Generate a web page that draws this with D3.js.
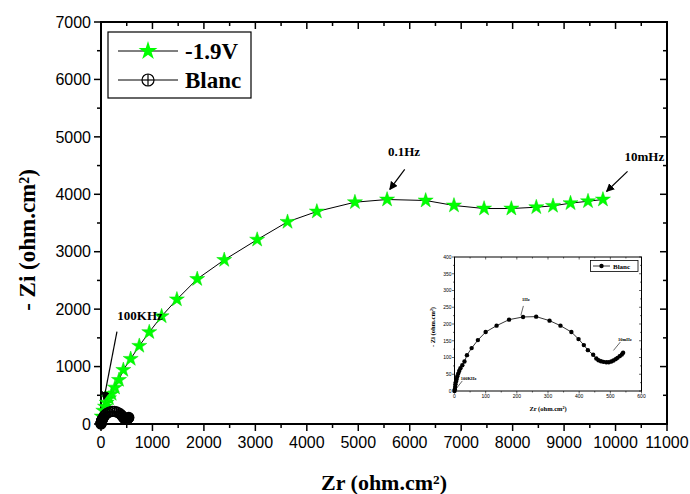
<!DOCTYPE html>
<html>
<head>
<meta charset="utf-8">
<script src="https://cdn.jsdelivr.net/npm/d3@7"></script>
<style>
  body { margin: 0; background: #fff; }
  text { fill: #000; }
</style>
</head>
<body>
<svg id="chart" width="690" height="494"></svg>
<script>
// -1.9V series (ohm.cm2)
const v19Zr = [15, 45, 78, 110, 155, 207, 272, 350, 434, 577, 744, 938, 1178, 1475, 1870, 2395, 3035, 3625, 4195, 4935, 5560, 6310, 6860, 7445, 7975, 8460, 8785, 9125, 9465, 9755];
const v19Zi = [130, 232, 302, 372, 448, 524, 634, 768, 942, 1134, 1361, 1600, 1876, 2170, 2525, 2857, 3210, 3520, 3700, 3862, 3909, 3892, 3805, 3752, 3752, 3775, 3799, 3845, 3879, 3909];

// Blanc series (ohm.cm2)
const blancZr = [0, 1, 2, 3, 5, 7, 9, 12, 15, 19, 25, 32, 40, 55, 75, 100, 135, 175, 220, 262, 305, 340, 375, 398, 415, 428, 445, 455, 462, 470, 478, 487, 495, 503, 510, 517, 523, 530, 537, 541];
const blancZi = [0, 5, 12, 20, 28, 36, 44, 52, 60, 68, 77, 88, 107, 128, 152, 176, 195, 213, 221, 222, 210, 195, 176, 155, 137, 122, 108, 97, 92, 89, 87, 86, 86, 88, 91, 95, 99, 104, 109, 114];

const xTicks = [0, 1000, 2000, 3000, 4000, 5000, 6000, 7000, 8000, 9000, 10000, 11000];
const yTicks = [0, 1000, 2000, 3000, 4000, 5000, 6000, 7000];
const insetXTicks = [0, 100, 200, 300, 400, 500, 600];
const insetYTicks = [0, 50, 100, 150, 200, 250, 300, 350, 400];

const mainNotes = [
  {label: "0.1Hz", tx: 5890, ty: 4660, x1: 5903, y1: 4433, x2: 5612, y2: 4084},
  {label: "10mHz", tx: 10560, ty: 4572, x1: 10233, y1: 4398, x2: 9825, y2: 4049},
  {label: "100KHz", tx: 760, ty: 1810, x1: 310, y1: 1610, x2: 55, y2: 430}
];
const insetNotes = [
  {label: "1Hz", tx: 229, ty: 268, x1: 221, y1: 254, x2: 213, y2: 226},
  {label: "10mHz", tx: 547, ty: 150, x1: 532, y1: 146, x2: 510, y2: 121},
  {label: "100KHz", tx: 45, ty: 34, x1: 25, y1: 30, x2: 3, y2: 4}
];

const svg = d3.select("#chart");
const serif = "'Liberation Serif', 'Times New Roman', serif";
const sans = "'Liberation Sans', Arial, sans-serif";

const defs = svg.append("defs");
defs.append("marker")
  .attr("id", "arrow")
  .attr("viewBox", "0 0 10 10")
  .attr("refX", 9).attr("refY", 5)
  .attr("markerWidth", 7).attr("markerHeight", 7)
  .attr("orient", "auto")
  .append("path").attr("d", "M0,0 L10,5 L0,10 z").attr("fill", "#000");

const x = d3.scaleLinear().domain([0, 11000]).range([101, 667]);
const y = d3.scaleLinear().domain([0, 7000]).range([424, 22]);

const v19 = v19Zr.map((d, i) => ({x: d, y: v19Zi[i]}));
const blanc = blancZr.map((d, i) => ({x: d, y: blancZi[i]}));

// frame with ticks on all four sides
function frame(g, xs, ys, minorX, minorY, xt, yt, opts) {
  const [x0, x1] = xs.range();
  const [y0, y1] = ys.range();
  g.append("rect").attr("x", x0).attr("y", y1).attr("width", x1 - x0).attr("height", y0 - y1)
    .attr("fill", "none").attr("stroke", "#000").attr("stroke-width", opts.sw);
  const tk = g.append("g").attr("stroke", "#000").attr("stroke-width", opts.tw);
  minorX.forEach(v => {
    const L = xt.includes(v) ? opts.maj : opts.min;
    tk.append("line").attr("x1", xs(v)).attr("x2", xs(v)).attr("y1", y0).attr("y2", y0 + L);
    tk.append("line").attr("x1", xs(v)).attr("x2", xs(v)).attr("y1", y1).attr("y2", y1 + L);
  });
  minorY.forEach(v => {
    const L = yt.includes(v) ? opts.maj : opts.min;
    tk.append("line").attr("y1", ys(v)).attr("y2", ys(v)).attr("x1", x0).attr("x2", x0 - L);
    tk.append("line").attr("y1", ys(v)).attr("y2", ys(v)).attr("x1", x1).attr("x2", x1 - L);
  });
  g.selectAll(null).data(xt).enter().append("text")
    .attr("x", d => xs(d)).attr("y", y0 + opts.xoff)
    .attr("text-anchor", "middle").attr("font-family", sans).attr("font-size", opts.fs)
    .text(d => d);
  g.selectAll(null).data(yt).enter().append("text")
    .attr("x", x0 - opts.yoff).attr("y", d => ys(d)).attr("dy", "0.36em")
    .attr("text-anchor", "end").attr("font-family", sans).attr("font-size", opts.fs)
    .text(d => d);
}

const mainG = svg.append("g");
frame(mainG, x, y, d3.range(0, 11001, 500), d3.range(0, 7001, 500), xTicks, yTicks,
  {sw: 2, tw: 1.5, maj: 7, min: 4, xoff: 24, yoff: 10, fs: 16});

// axis titles
svg.append("text").attr("x", 384).attr("y", 490).attr("text-anchor", "middle")
  .attr("font-family", serif).attr("font-weight", "bold").attr("font-size", 22)
  .html("Zr (ohm.cm&#178;)");
svg.append("text").attr("transform", "translate(35,240) rotate(-90)").attr("text-anchor", "middle")
  .attr("font-family", serif).attr("font-weight", "bold").attr("font-size", 23)
  .html("- Zi (ohm.cm&#178;)");

// series
const line = d3.line().x(d => x(d.x)).y(d => y(d.y));
mainG.append("path").attr("d", line(v19)).attr("fill", "none").attr("stroke", "#000").attr("stroke-width", 1);
mainG.append("path").attr("d", line(blanc)).attr("fill", "none").attr("stroke", "#000").attr("stroke-width", 1);

const star = d3.symbol().type(d3.symbolStar).size(70);
mainG.selectAll(".star").data(v19).enter().append("path")
  .attr("transform", d => `translate(${x(d.x)},${y(d.y)})`)
  .attr("d", star).attr("fill", "#00ff00").attr("stroke", "#00e000").attr("stroke-width", 0.5);

function circPlus(g, cx, cy, r) {
  g.append("circle").attr("cx", cx).attr("cy", cy).attr("r", r)
    .attr("fill", "none").attr("stroke", "#000").attr("stroke-width", 1.2);
  g.append("line").attr("x1", cx - r).attr("x2", cx + r).attr("y1", cy).attr("y2", cy).attr("stroke", "#000").attr("stroke-width", 1.2);
  g.append("line").attr("x1", cx).attr("x2", cx).attr("y1", cy - r).attr("y2", cy + r).attr("stroke", "#000").attr("stroke-width", 1.2);
}
blanc.forEach(d => circPlus(mainG, x(d.x), y(d.y), 5));

// main annotations
mainNotes.forEach(n => {
  mainG.append("line").attr("x1", x(n.x1)).attr("y1", y(n.y1)).attr("x2", x(n.x2)).attr("y2", y(n.y2))
    .attr("stroke", "#000").attr("stroke-width", 1.2).attr("marker-end", "url(#arrow)");
  mainG.append("text").attr("x", x(n.tx)).attr("y", y(n.ty)).attr("text-anchor", "middle")
    .attr("font-family", serif).attr("font-weight", "bold").attr("font-size", 13).text(n.label);
});

// legend
const lg = svg.append("g");
lg.append("rect").attr("x", 108).attr("y", 32).attr("width", 143).attr("height", 66)
  .attr("fill", "#fff").attr("stroke", "#000").attr("stroke-width", 1.2);
lg.append("line").attr("x1", 118).attr("x2", 178).attr("y1", 51).attr("y2", 51).attr("stroke", "#000");
lg.append("path").attr("transform", "translate(148,51)").attr("d", d3.symbol().type(d3.symbolStar).size(110)).attr("fill", "#00ff00");
lg.append("text").attr("x", 185).attr("y", 59).attr("font-family", serif).attr("font-weight", "bold").attr("font-size", 23).text("-1.9V");
lg.append("line").attr("x1", 118).attr("x2", 178).attr("y1", 80).attr("y2", 80).attr("stroke", "#000");
lg.append("circle").attr("cx", 148).attr("cy", 80).attr("r", 6).attr("fill", "#fff");
circPlus(lg, 148, 80, 6);
lg.append("text").attr("x", 185).attr("y", 88).attr("font-family", serif).attr("font-weight", "bold").attr("font-size", 23).text("Blanc");

// inset
const ix = d3.scaleLinear().domain([0, 600]).range([454.5, 641.5]);
const iy = d3.scaleLinear().domain([0, 400]).range([391, 257]);
const inG = svg.append("g");
frame(inG, ix, iy, d3.range(0, 601, 50), d3.range(0, 401, 25), insetXTicks, insetYTicks,
  {sw: 1, tw: 0.6, maj: 2.5, min: 1.5, xoff: 7, yoff: 3, fs: 5});
const iline = d3.line().x(d => ix(d.x)).y(d => iy(d.y));
inG.append("path").attr("d", iline(blanc)).attr("fill", "none").attr("stroke", "#000").attr("stroke-width", 0.8);
inG.selectAll(".dot").data(blanc).enter().append("circle")
  .attr("cx", d => ix(d.x)).attr("cy", d => iy(d.y)).attr("r", 2.2).attr("fill", "#000");
insetNotes.forEach(n => {
  inG.append("line").attr("x1", ix(n.x1)).attr("y1", iy(n.y1)).attr("x2", ix(n.x2)).attr("y2", iy(n.y2))
    .attr("stroke", "#000").attr("stroke-width", 0.6);
  inG.append("text").attr("x", ix(n.tx)).attr("y", iy(n.ty)).attr("text-anchor", "middle")
    .attr("font-family", serif).attr("font-weight", "bold").attr("font-size", 4.5).text(n.label);
});
inG.append("text").attr("x", 548).attr("y", 411).attr("text-anchor", "middle")
  .attr("font-family", serif).attr("font-weight", "bold").attr("font-size", 6.5).html("Zr (ohm.cm&#178;)");
inG.append("text").attr("transform", "translate(435,327) rotate(-90)").attr("text-anchor", "middle")
  .attr("font-family", serif).attr("font-weight", "bold").attr("font-size", 6.5).html("- Zi (ohm.cm&#178;)");
// inset legend
inG.append("rect").attr("x", 590.5).attr("y", 260.5).attr("width", 47.5).attr("height", 11)
  .attr("fill", "#fff").attr("stroke", "#000").attr("stroke-width", 0.8);
inG.append("line").attr("x1", 593).attr("x2", 610).attr("y1", 266).attr("y2", 266).attr("stroke", "#000").attr("stroke-width", 0.8);
inG.append("circle").attr("cx", 601.5).attr("cy", 266).attr("r", 2.2).attr("fill", "#000");
inG.append("text").attr("x", 613).attr("y", 268.5).attr("font-family", serif).attr("font-weight", "bold").attr("font-size", 7).text("Blanc");
</script>
</body>
</html>
